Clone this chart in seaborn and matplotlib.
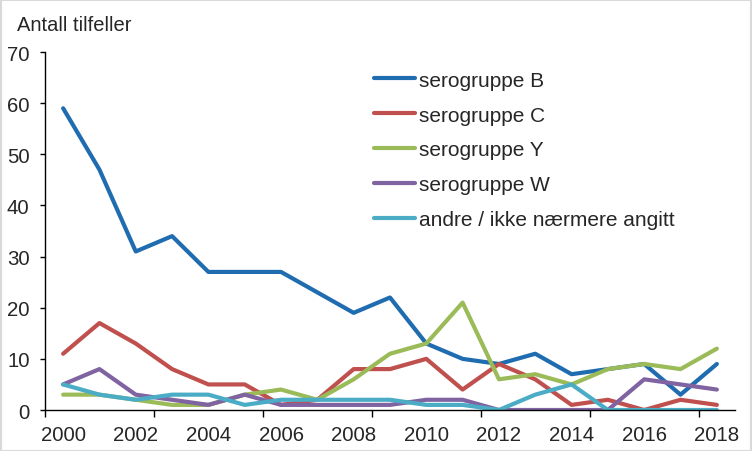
import matplotlib
matplotlib.use('Agg')
import matplotlib.pyplot as plt
import pandas as pd
import seaborn as sns
from matplotlib.ticker import FixedLocator

# Data
years = list(range(2000, 2019))
sero_b = [59, 47, 31, 34, 27, 27, 27, 23, 19, 22, 13, 10, 9, 11, 7, 8, 9, 3, 9]
sero_c = [11, 17, 13, 8, 5, 5, 1, 2, 8, 8, 10, 4, 9, 6, 1, 2, 0, 2, 1]
sero_y = [3, 3, 2, 1, 1, 3, 4, 2, 6, 11, 13, 21, 6, 7, 5, 8, 9, 8, 12]
sero_w = [5, 8, 3, 2, 1, 3, 1, 1, 1, 1, 2, 2, 0, 0, 0, 0, 6, 5, 4]
andre = [5, 3, 2, 3, 3, 1, 2, 2, 2, 2, 1, 1, 0, 3, 5, 0, 0, 0, 0]

series_names = ['serogruppe B', 'serogruppe C', 'serogruppe Y',
                'serogruppe W', 'andre / ikke nærmere angitt']
colors = ['#1f6cb0', '#c0504d', '#9bbb59', '#8064a2', '#4bacc6']

df = pd.DataFrame({'year': years * 5,
                   'value': sero_b + sero_c + sero_y + sero_w + andre,
                   'series': [n for n in series_names for _ in years]})

sns.set_style('white')
plt.rcParams['font.family'] = ['Liberation Sans', 'DejaVu Sans']

fig = plt.figure(figsize=(7.52, 4.52), dpi=100)
ax = fig.add_axes([0.0598, 0.0907, 0.9176, 0.792])

sns.lineplot(data=df, x='year', y='value', hue='series', hue_order=series_names,
             palette=colors, linewidth=3.0, ax=ax, legend=False)

ax.set_xlim(1999.5, 2018.5)
ax.set_ylim(0, 70)
ax.set_yticks(range(0, 71, 10))
ax.set_xticks(range(2000, 2019, 2))
ax.xaxis.set_minor_locator(FixedLocator([1999.5 + 3 * k for k in range(7)]))
ax.tick_params(axis='x', which='major', length=0, pad=11, labelsize=14.7)
ax.tick_params(axis='x', which='minor', length=5, width=1, direction='out',
               color='black', bottom=True)
ax.tick_params(axis='y', length=3.6, width=1, direction='out', color='black',
               left=True, labelsize=14.7, pad=7.5)
ax.set_xlabel('')
ax.set_ylabel('')
sns.despine(ax=ax)
for s in ['left', 'bottom']:
    ax.spines[s].set_color('black')
    ax.spines[s].set_linewidth(1)

handles = [plt.Line2D([], [], color=c, linewidth=3.0) for c in colors]
ax.legend(handles, series_names, loc='upper left', bbox_to_anchor=(0.45, 1.0),
          frameon=False, fontsize=15, handlelength=1.97, labelspacing=0.76,
          handletextpad=0.2)

fig.text(0.022, 0.944, 'Antall tilfeller', fontsize=14.5, ha='left', va='center')

# light grey frame round the picture
fig.patches.append(plt.Rectangle((0.001, 0.001), 0.998, 0.997, transform=fig.transFigure,
                                 fill=False, edgecolor='#d9d9d9', linewidth=1.5))

fig.savefig('out.png', dpi=100)
